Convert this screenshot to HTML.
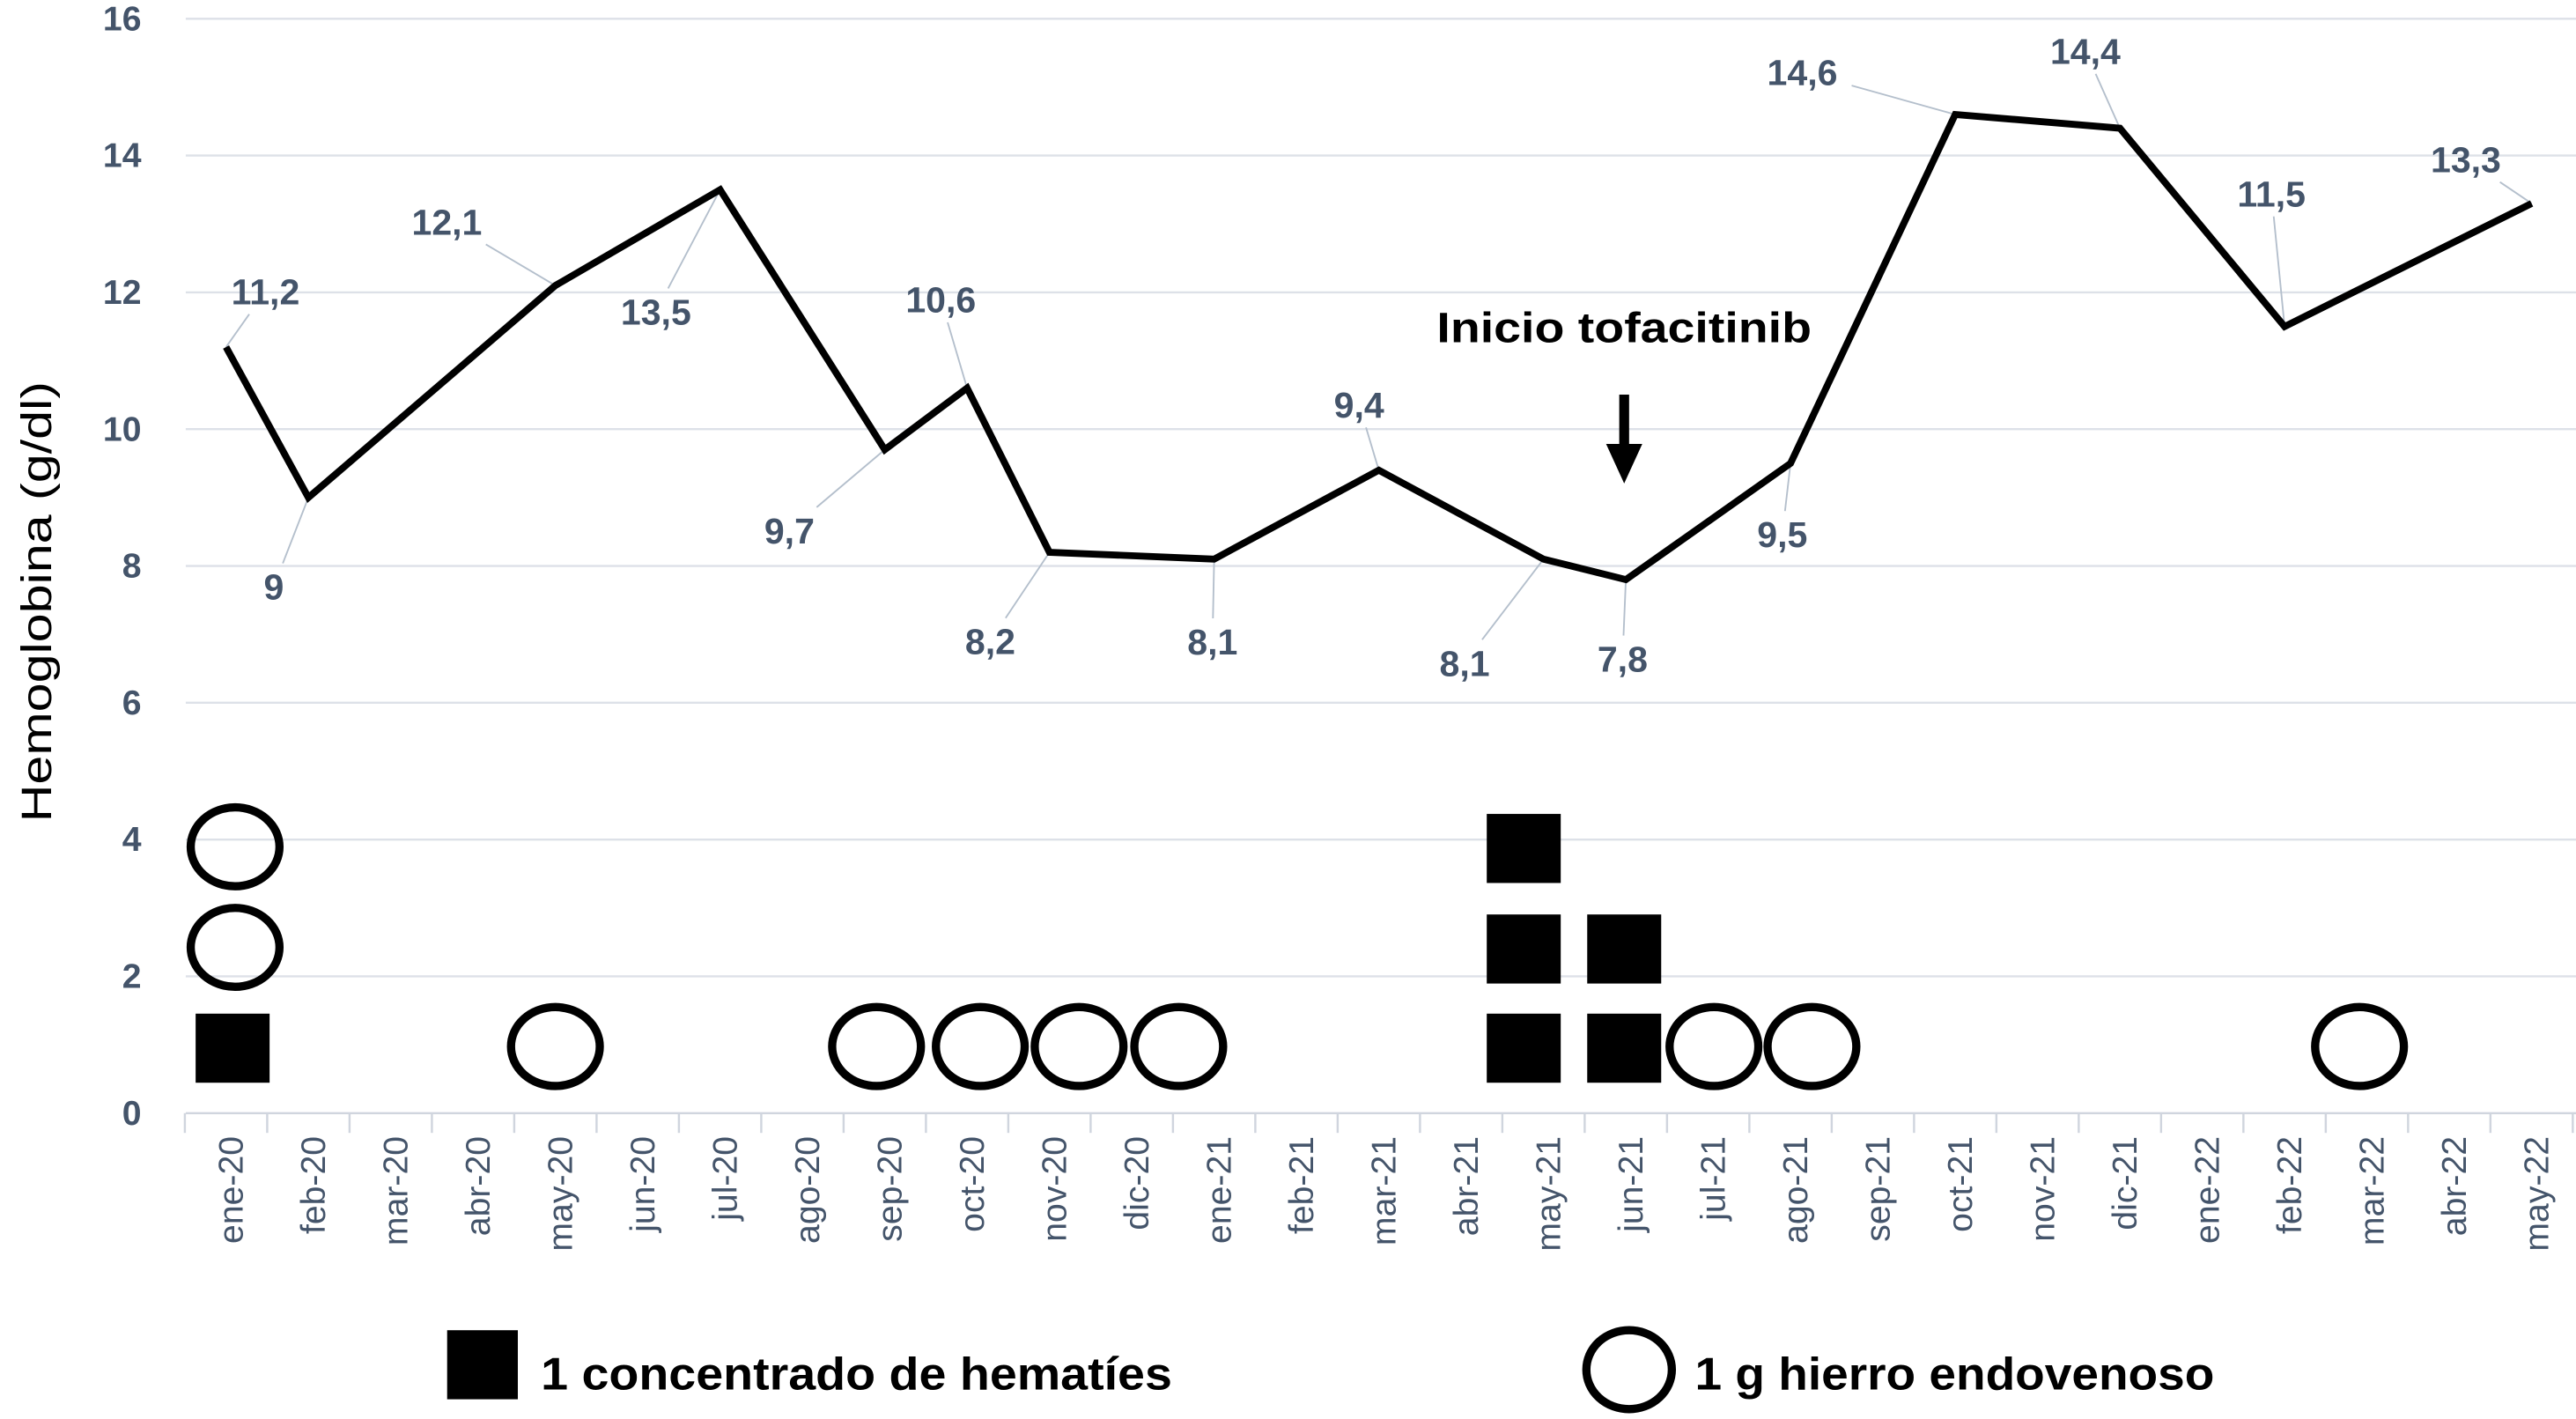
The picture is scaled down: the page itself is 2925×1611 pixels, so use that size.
<!DOCTYPE html>
<html><head><meta charset="utf-8"><style>
html,body{margin:0;padding:0;background:#fff;}
svg{display:block;}
</style></head><body>
<svg id="chart" width="2925" height="1611" viewBox="0 0 1567 863" preserveAspectRatio="none" xmlns="http://www.w3.org/2000/svg">
<g id="grid"></g>
<g id="yticks"></g>
<g id="xaxis"></g>
<g id="leaders"></g>
<g id="series"></g>
<g id="labels"></g>
<g id="events"></g>
<text transform="translate(31,366) rotate(-90)" text-anchor="middle" font-family="Liberation Sans, sans-serif" font-size="26" fill="#000" textLength="268" lengthAdjust="spacingAndGlyphs">Hemoglobina (g/dl)</text>
<text x="988" y="208" text-anchor="middle" font-family="Liberation Sans, sans-serif" font-weight="bold" font-size="26" fill="#000" textLength="228" lengthAdjust="spacingAndGlyphs">Inicio tofacitinib</text>
<g>
<rect x="985" y="240" width="6" height="32" fill="#000"/>
<polygon points="977,270 999,270 988,294" fill="#000"/>
</g>
<g>
<rect x="272" y="809" width="43" height="42" fill="#000"/>
<text x="329" y="845" font-family="Liberation Sans, sans-serif" font-weight="bold" font-size="28" fill="#000" textLength="384" lengthAdjust="spacingAndGlyphs">1 concentrado de hematíes</text>
<ellipse cx="991" cy="833" rx="26" ry="24" fill="none" stroke="#000" stroke-width="5"/>
<text x="1031" y="845" font-family="Liberation Sans, sans-serif" font-weight="bold" font-size="28" fill="#000" textLength="316" lengthAdjust="spacingAndGlyphs">1 g hierro endovenoso</text>
</g>
</svg>
<script>
const categories = ["ene-20","feb-20","mar-20","abr-20","may-20","jun-20","jul-20","ago-20","sep-20","oct-20","nov-20","dic-20","ene-21","feb-21","mar-21","abr-21","may-21","jun-21","jul-21","ago-21","sep-21","oct-21","nov-21","dic-21","ene-22","feb-22","mar-22","abr-22","may-22"];
const hbMonths = [0,1,4,6,8,9,10,12,14,16,17,19,21,23,25,28];
const hbValues = [11.2,9,12.1,13.5,9.7,10.6,8.2,8.1,9.4,8.1,7.8,9.5,14.6,14.4,11.5,13.3];
const hbLabels = ["11,2","9","12,1","13,5","9,7","10,6","8,2","8,1","9,4","8,1","7,8","9,5","14,6","14,4","11,5","13,3"];
const yTicks = [0,2,4,6,8,10,12,14,16];
// transfusion events (month position, count)
const rbcMonths = [0.07,15.75,16.97];
const rbcCounts = [1,3,2];
// iron events (month position, count)
const ironMonths = [0.11,4.0,7.9,9.16,10.36,11.57,18.07,19.26,25.91];
const ironCounts = [2,1,1,1,1,1,1,1,1];
const stackLevels = [0.95,2.4,3.87];
// label offsets (layout, not data)
const labelOff = [[24,-34],[-21,54],[-66,-39],[-39,74],[-58,49],[-16,-54],[-36,54],[-1,50],[-12,-40],[-48,63],[-2,48],[-5,43],[-93,-26],[-21,-47],[-8,-81],[-40,-27]];

const NS="http://www.w3.org/2000/svg";
const X0=137.5, DX=(1540-137.5)/28, Y0=677, DY=41.6;
const x=i=>X0+i*DX, y=v=>Y0-v*DY;
function mk(tag,attrs,parent){const e=document.createElementNS(NS,tag);for(const k in attrs)e.setAttribute(k,attrs[k]);parent.appendChild(e);return e;}
const grid=document.getElementById('grid'), yt=document.getElementById('yticks'), xa=document.getElementById('xaxis');
yTicks.forEach(t=>{
  const l=mk('line',{x1:113,x2:1567,y1:y(t),y2:y(t),stroke:t===0?'#d0d5de':'#dde1e8','stroke-width':1.3},grid);
  
  
  const tx=mk('text',{x:86,y:y(t)+7,'text-anchor':'end','font-family':'Liberation Sans, sans-serif','font-weight':'bold','font-size':21,fill:'#44546a'},yt);
  tx.textContent=t;
  
  
});
for(let i=0;i<=categories.length;i++){
  const tk=mk('line',{x1:x(i)-DX/2,x2:x(i)-DX/2,y1:Y0,y2:Y0+12,stroke:'#d0d5de','stroke-width':1.3},xa);
  
  
}
categories.forEach((c,i)=>{
  const t=mk('text',{transform:`translate(${x(i)+10},691) rotate(-90)`,'text-anchor':'end','font-family':'Liberation Sans, sans-serif','font-size':21,fill:'#44546a'},xa);
  t.textContent=c;
  
  
});
const pts=hbMonths.map((m,i)=>[x(m),y(hbValues[i])]);
const pl=mk('polyline',{points:pts.map(p=>p.join(',')).join(' '),fill:'none',stroke:'#000','stroke-width':4.2,'stroke-linejoin':'miter'},document.getElementById('series'));


const lg=document.getElementById('labels'), ld=document.getElementById('leaders');
pts.forEach((p,i)=>{
  const cx=p[0]+labelOff[i][0], cy=p[1]+labelOff[i][1];
  const dx=p[0]-cx, dy=p[1]-cy;
  const hw=hbLabels[i].length*6.5+4, hh=14;
  const s=Math.min(hw/Math.abs(dx||1e-6), hh/Math.abs(dy||1e-6));
  if(s<1){
    const ln=mk('line',{x1:p[0],y1:p[1],x2:cx+dx*s,y2:cy+dy*s,stroke:'#b4bfcc','stroke-width':1},ld);
    
    
  }
  const t=mk('text',{x:cx,y:cy+8,'text-anchor':'middle','font-family':'Liberation Sans, sans-serif','font-weight':'bold','font-size':22,fill:'#44546a'},lg);
  t.textContent=hbLabels[i];
  
  
});
const ev=document.getElementById('events');
rbcMonths.forEach((m,i)=>{
  for(let k=0;k<rbcCounts[i];k++){
    const r=mk('rect',{x:x(m)-22,y:y(stackLevels[k])-21,width:45,height:42,fill:'#000'},ev);
    
    
  }
});
ironMonths.forEach((m,i)=>{
  const base=(m<0.5)?1:0;
  for(let k=0;k<ironCounts[i];k++){
    const e=mk('ellipse',{cx:x(m),cy:y(stackLevels[k+base])-1,rx:27,ry:24,fill:'none',stroke:'#000','stroke-width':5},ev);
    
    
  }
});
</script>
</body></html>
